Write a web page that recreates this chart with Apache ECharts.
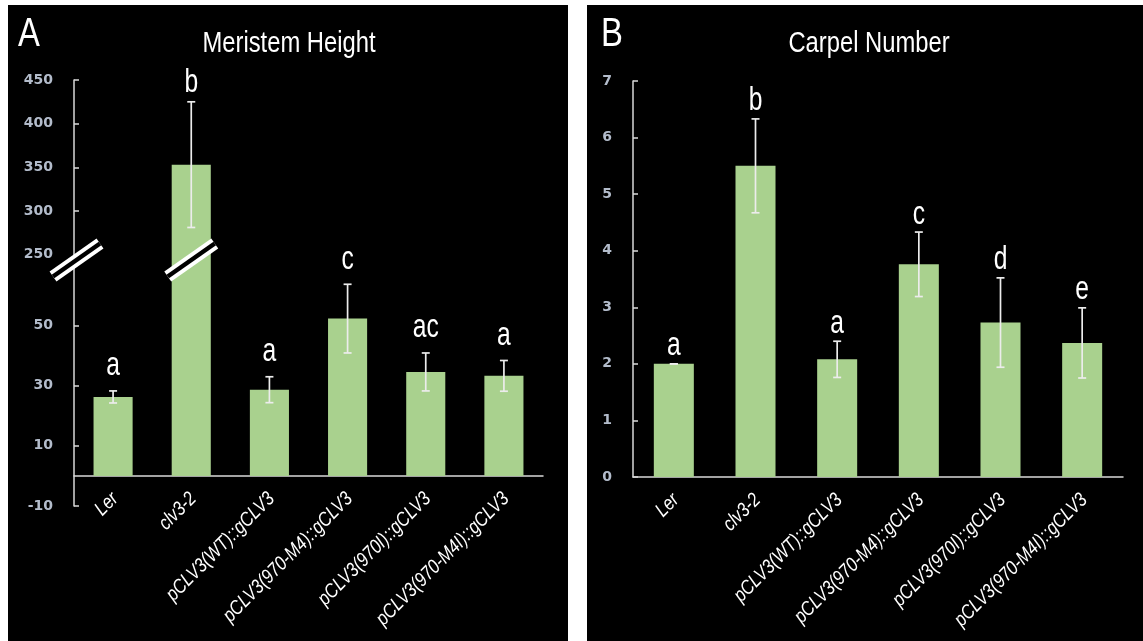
<!DOCTYPE html>
<html>
<head>
<meta charset="utf-8">
<script src="https://cdn.jsdelivr.net/npm/echarts@6/dist/echarts.min.js"></script>
<style>
  html, body { margin: 0; padding: 0; background: #ffffff; }
  #chart { width: 1143px; height: 641px; }
</style>
</head>
<body>
<div id="chart"></div>
<script>
// Genotypes shown on both panels
const categories = [
  'Ler',
  'clv3-2',
  'pCLV3(WT)::gCLV3',
  'pCLV3(970-M4)::gCLV3',
  'pCLV3(970I)::gCLV3',
  'pCLV3(970-M4I)::gCLV3'
];

// Panel A: meristem height (mean, standard deviation, significance letters)
const heightMean = [26.2, 353, 28.6, 52.2, 34.5, 33.2];
const heightSD = [2.0, 72, 4.3, 11.4, 6.3, 5.1];
const heightLetters = ['a', 'b', 'a', 'c', 'ac', 'a'];
const heightTicksLow = [-10, 10, 30, 50];
const heightTicksHigh = [250, 300, 350, 400, 450];

// Panel B: carpel number
const carpelMean = [2.0, 5.5, 2.08, 3.76, 2.73, 2.37];
const carpelSD = [0, 0.83, 0.32, 0.57, 0.79, 0.62];
const carpelLetters = ['a', 'b', 'a', 'c', 'd', 'e'];

// Broken axis of panel A: lower segment ends at LOW_MAX, upper starts at HIGH_MIN
const LOW_MAX = 70;
const HIGH_MIN = 238;

const SANS = '"Liberation Sans", Arial, sans-serif';
const NARROW_X = 0.82;          // horizontal squeeze giving a condensed face
const GREEN = '#a9d18e';
const AXIS = '#d9d9d9';
const ERR = '#ececec';
const TICKLABEL = '#b3bccb';

const chart = echarts.init(document.getElementById('chart'), null, { renderer: 'canvas' });

function errorItems(mean, sd, keep) {
  const out = [];
  mean.forEach((m, i) => { if (keep(m)) out.push([i, m, sd[i]]); });
  return out;
}

// Error bar with caps plus the significance letter above it
function errorRenderer(letters, gap) {
  return function (params, api) {
    const i = api.value(0);
    const m = api.value(1);
    const s = api.value(2);
    const top = api.coord([i, m + s]);
    const bot = api.coord([i, m - s]);
    const half = 4;
    const st = { stroke: ERR, lineWidth: 1.7 };
    return {
      type: 'group',
      children: [
        { type: 'line', shape: { x1: top[0], y1: top[1], x2: bot[0], y2: bot[1] }, style: st },
        { type: 'line', shape: { x1: top[0] - half, y1: top[1], x2: top[0] + half, y2: top[1] }, style: st },
        { type: 'line', shape: { x1: bot[0] - half, y1: bot[1], x2: bot[0] + half, y2: bot[1] }, style: st },
        {
          type: 'text',
          x: top[0], y: top[1] - gap,
          scaleX: 0.88, scaleY: 1.2,
          style: {
            text: letters[i], x: 0, y: 0,
            fill: '#ffffff',
            font: '28px ' + SANS,
            align: 'center', verticalAlign: 'bottom'
          }
        }
      ]
    };
  };
}

// Slanted italic category names hanging below the zero line
function categoryLabelRenderer(params, api) {
  const i = api.value(0);
  const p = api.coord([i, 0]);
  return {
    type: 'text',
    x: p[0] + 2, y: p[1] + 20,
    rotation: Math.PI / 4,
    scaleX: NARROW_X,
    style: {
      text: categories[i], x: 0, y: 0,
      fill: '#ffffff',
      font: 'italic 20px ' + SANS,
      align: 'right', verticalAlign: 'middle'
    }
  };
}

const yLabelBase = {
  color: TICKLABEL,
  fontFamily: '"DejaVu Sans", sans-serif',
  fontWeight: 'bold',
  fontSize: 14,
  margin: 21
};

const axisLine = { show: true, lineStyle: { color: AXIS, width: 1.5 } };
const axisTick = { show: true, inside: true, length: 5, lineStyle: { color: AXIS, width: 1.5 } };
const catIndex = categories.map((c, i) => [i]);

const option = {
  backgroundColor: '#ffffff',
  animation: false,
  grid: [
    { left: 74, right: 600, top: 265, bottom: 135, outerBoundsMode: 'none' },  // panel A, lower segment
    { left: 74, right: 600, top: 80, bottom: 376, outerBoundsMode: 'none' },   // panel A, upper segment
    { left: 633, right: 20, top: 81, bottom: 164, outerBoundsMode: 'none' }    // panel B
  ],
  xAxis: [
    { gridIndex: 0, type: 'category', data: categories, axisLine: axisLine, axisTick: { show: false }, axisLabel: { show: false } },
    { gridIndex: 1, type: 'category', data: categories, show: false },
    { gridIndex: 2, type: 'category', data: categories, axisLine: axisLine, axisTick: { show: false }, axisLabel: { show: false } }
  ],
  yAxis: [
    {
      gridIndex: 0, type: 'value', min: -10, max: LOW_MAX,
      splitLine: { show: false }, axisLine: axisLine,
      axisTick: Object.assign({ customValues: heightTicksLow }, axisTick),
      axisLabel: Object.assign({ customValues: heightTicksLow }, yLabelBase)
    },
    {
      gridIndex: 1, type: 'value', min: HIGH_MIN, max: 450,
      splitLine: { show: false }, axisLine: axisLine,
      axisTick: Object.assign({ customValues: heightTicksHigh }, axisTick),
      axisLabel: Object.assign({ customValues: heightTicksHigh }, yLabelBase)
    },
    {
      gridIndex: 2, type: 'value', min: 0, max: 7, interval: 1,
      splitLine: { show: false }, axisLine: axisLine, axisTick: axisTick,
      axisLabel: yLabelBase
    }
  ],
  series: [
    {
      type: 'bar', xAxisIndex: 0, yAxisIndex: 0, barWidth: '50%', clip: true,
      itemStyle: { color: GREEN }, data: heightMean
    },
    {
      type: 'bar', xAxisIndex: 1, yAxisIndex: 1, barWidth: '50%', clip: true,
      itemStyle: { color: GREEN },
      data: heightMean.map(v => (v > HIGH_MIN ? v : '-'))
    },
    {
      type: 'custom', xAxisIndex: 0, yAxisIndex: 0, z: 5,
      renderItem: errorRenderer(heightLetters, 8),
      data: errorItems(heightMean, heightSD, m => m <= LOW_MAX)
    },
    {
      type: 'custom', xAxisIndex: 1, yAxisIndex: 1, z: 5,
      renderItem: errorRenderer(heightLetters, 2),
      data: errorItems(heightMean, heightSD, m => m > HIGH_MIN)
    },
    {
      type: 'custom', xAxisIndex: 0, yAxisIndex: 0, z: 5, clip: false,
      renderItem: categoryLabelRenderer, data: catIndex
    },
    {
      type: 'bar', xAxisIndex: 2, yAxisIndex: 2, barWidth: '49%',
      itemStyle: { color: GREEN }, data: carpelMean
    },
    {
      type: 'custom', xAxisIndex: 2, yAxisIndex: 2, z: 5,
      renderItem: errorRenderer(carpelLetters, 1),
      data: errorItems(carpelMean, carpelSD, () => true)
    },
    {
      type: 'custom', xAxisIndex: 2, yAxisIndex: 2, z: 5, clip: false,
      renderItem: categoryLabelRenderer, data: catIndex
    }
  ]
};

chart.setOption(option);

// Panels, headings and the axis-break marks
function breakMark(id, cx, cy) {
  const dx = 23.5, dy = 16.5;
  const shape = { x1: cx - dx, y1: cy + dy, x2: cx + dx, y2: cy - dy };
  return {
    type: 'group', id: id, z: 100,
    children: [
      { type: 'line', z: 100, shape: shape, style: { stroke: '#ffffff', lineWidth: 12 } },
      { type: 'line', z: 101, shape: shape, style: { stroke: '#000000', lineWidth: 4.5 } }
    ]
  };
}

const c0 = chart.convertToPixel({ xAxisIndex: 0 }, 0);
const c1 = chart.convertToPixel({ xAxisIndex: 0 }, 1);
const band = c1 - c0;
const axisX = c0 - band / 2;
const joinY = chart.convertToPixel({ yAxisIndex: 0 }, LOW_MAX) - 5;

function heading(text, x, y, size, align) {
  return {
    type: 'text', z: 100, x: x, y: y, scaleX: NARROW_X,
    style: { text: text, fill: '#ffffff', font: size + 'px ' + SANS, align: align, verticalAlign: 'middle' }
  };
}

chart.setOption({
  graphic: [
    { type: 'rect', z: -100, shape: { x: 8, y: 5, width: 560, height: 636 }, style: { fill: '#000000' } },
    { type: 'rect', z: -100, shape: { x: 587, y: 5, width: 556, height: 636 }, style: { fill: '#000000' } },
    heading('A', 18, 35, 40, 'left'),
    heading('Meristem Height', 289, 44, 29, 'center'),
    heading('B', 601, 35, 40, 'left'),
    heading('Carpel Number', 869, 44, 29, 'center'),
    breakMark('breakAxis', axisX + 2.5, joinY),
    breakMark('breakBar', c1, joinY)
  ]
});
</script>
</body>
</html>
